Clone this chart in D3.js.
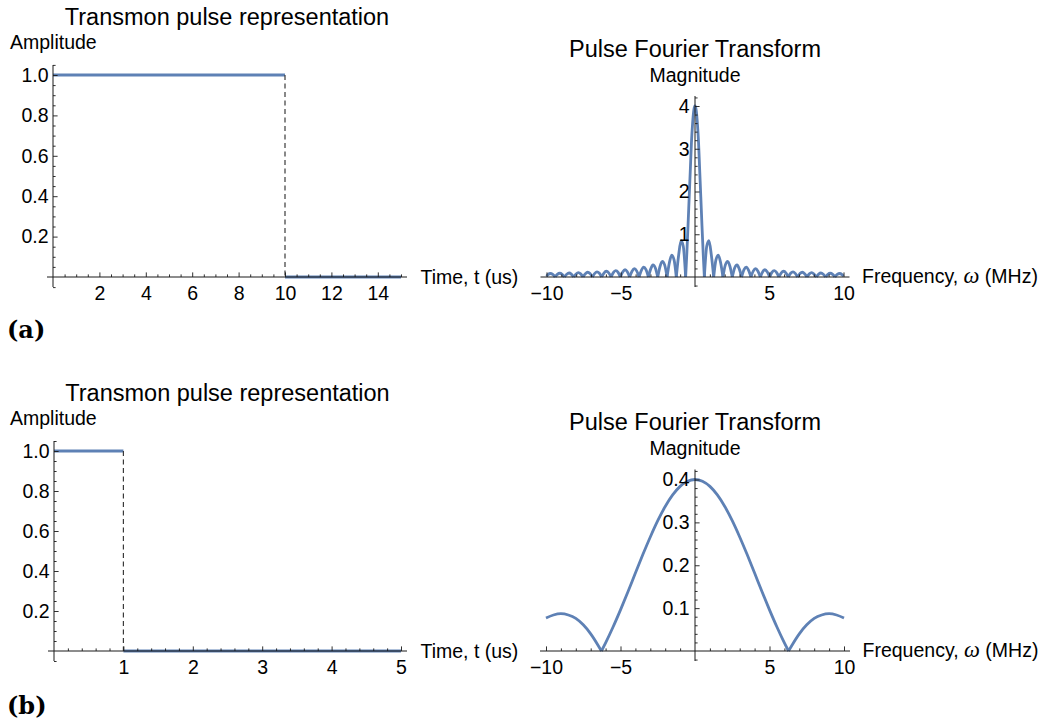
<!DOCTYPE html>
<html>
<head>
<meta charset="utf-8">
<script src="https://cdn.jsdelivr.net/npm/d3@7"></script>
<style>
  html, body { margin: 0; padding: 0; background: #fff; }
  svg { display: block; font-family: "Liberation Sans", Arial, sans-serif; }
</style>
</head>
<body>
<svg id="chart" width="1048" height="727"></svg>
<script>
// ---- Rectangular pulses: level held between consecutive edges ----
const pulseEdgesA = [0, 10, 15];
const pulseLevelsA = [1, 0];
const pulseEdgesB = [0, 1, 5];
const pulseLevelsB = [1, 0];

// ---- Tick labels ----
const timeTicksA = [2, 4, 6, 8, 10, 12, 14];
const timeTicksB = [1, 2, 3, 4, 5];
const amplitudeTicks = [0.2, 0.4, 0.6, 0.8, 1.0];
const freqTicks = [-10, -5, 5, 10];
const magTicksA = [1, 2, 3, 4];
const magTicksB = [0.1, 0.2, 0.3, 0.4];

// ---- Spectrum of the 10 us pulse ----
const omegaA = [
  -10, -9.90, -9.74, -9.58, -9.42, -9.27, -9.11, -8.95, -8.80, -8.64, -8.48, -8.33, -8.17,
  -8.01, -7.85, -7.70, -7.54, -7.38, -7.23, -7.07, -6.91, -6.75, -6.60, -6.44, -6.28,
  -6.13, -5.97, -5.81, -5.65, -5.50, -5.34, -5.18, -5.03, -4.87, -4.71, -4.56, -4.40,
  -4.24, -4.08, -3.93, -3.77, -3.61, -3.46, -3.30, -3.14, -2.98, -2.83, -2.67, -2.51,
  -2.36, -2.20, -2.04, -1.88, -1.73, -1.57, -1.41, -1.26, -1.10, -0.94, -0.79, -0.63,
  -0.55, -0.47, -0.39, -0.31, -0.24, -0.16, -0.08, 0,
  0.08, 0.16, 0.24, 0.31, 0.39, 0.47, 0.55,
  0.63, 0.79, 0.94, 1.10, 1.26, 1.41, 1.57, 1.73, 1.88, 2.04, 2.20, 2.36,
  2.51, 2.67, 2.83, 2.98, 3.14, 3.30, 3.46, 3.61, 3.77, 3.93, 4.08, 4.24,
  4.40, 4.56, 4.71, 4.87, 5.03, 5.18, 5.34, 5.50, 5.65, 5.81, 5.97, 6.13,
  6.28, 6.44, 6.60, 6.75, 6.91, 7.07, 7.23, 7.38, 7.54, 7.70, 7.85, 8.01,
  8.17, 8.33, 8.48, 8.64, 8.80, 8.95, 9.11, 9.27, 9.42, 9.58, 9.74, 9.90, 10
];
const magnitudeA = [
  0.021, 0.057, 0.082, 0.059, 0, 0.061, 0.088, 0.063, 0, 0.065, 0.094, 0.068, 0,
  0.071, 0.102, 0.073, 0, 0.077, 0.111, 0.080, 0, 0.084, 0.121, 0.088, 0,
  0.092, 0.134, 0.097, 0, 0.103, 0.150, 0.109, 0, 0.116, 0.170, 0.124, 0,
  0.133, 0.196, 0.144, 0, 0.157, 0.232, 0.171, 0, 0.190, 0.283, 0.212, 0,
  0.240, 0.364, 0.277, 0, 0.327, 0.509, 0.400, 0, 0.514, 0.849, 0.720, 0,
  0.56, 1.20, 1.88, 2.55, 3.14, 3.60, 3.90, 4,
  3.90, 3.60, 3.14, 2.55, 1.88, 1.20, 0.56,
  0, 0.720, 0.849, 0.514, 0, 0.400, 0.509, 0.327, 0, 0.277, 0.364, 0.240,
  0, 0.212, 0.283, 0.190, 0, 0.171, 0.232, 0.157, 0, 0.144, 0.196, 0.133,
  0, 0.124, 0.170, 0.116, 0, 0.109, 0.150, 0.103, 0, 0.097, 0.134, 0.092,
  0, 0.088, 0.121, 0.084, 0, 0.080, 0.111, 0.077, 0, 0.073, 0.102, 0.071,
  0, 0.068, 0.094, 0.065, 0, 0.063, 0.088, 0.061, 0, 0.059, 0.082, 0.057, 0.021
];

// ---- Spectrum of the 1 us pulse ----
const omegaB = [
  -10, -9.5, -9, -8.5, -8, -7.5, -7, -6.5, -6.28, -6, -5.5, -5, -4.5, -4, -3.5, -3,
  -2.5, -2, -1.5, -1, -0.5, 0, 0.5, 1, 1.5, 2, 2.5, 3, 3.5, 4, 4.5, 5, 5.5, 6, 6.28,
  6.5, 7, 7.5, 8, 8.5, 9, 9.5, 10
];
const magnitudeB = [
  0.077, 0.084, 0.087, 0.084, 0.076, 0.061, 0.040, 0.013, 0, 0.019, 0.056, 0.096,
  0.138, 0.182, 0.225, 0.266, 0.304, 0.337, 0.364, 0.384, 0.396, 0.400, 0.396, 0.384,
  0.364, 0.337, 0.304, 0.266, 0.225, 0.182, 0.138, 0.096, 0.056, 0.019, 0,
  0.013, 0.040, 0.061, 0.076, 0.084, 0.087, 0.084, 0.077
];

// ---- Drawing ----
const LINE = "#5E81B5";
const AXIS = "#1a1a1a";
const svg = d3.select("#chart");

function rangeStep(a, b, s) {
  const out = [];
  for (let i = 0; a + i * s <= b + 1e-9; i++) out.push(+(a + i * s).toFixed(6));
  return out;
}
function minorOf(all, majors) {
  return all.filter(v => !majors.some(m => Math.abs(m - v) < 1e-6) && Math.abs(v) > 1e-9);
}

function drawAxes(g, x, y, cfg) {
  const ax = y(0), ay = x(0);
  const [xa, xb] = x.range();
  const [yb, yt] = y.range();

  // x axis: line, minor ticks, major ticks with labels
  g.append("line").attr("x1", xa - 6).attr("x2", xb + 6).attr("y1", ax).attr("y2", ax)
    .attr("stroke", AXIS).attr("stroke-width", 1);
  const xMinor = g.append("g").attr("transform", `translate(0,${ax})`)
    .call(d3.axisBottom(x).tickValues(cfg.xMinor).tickSize(-2.6).tickFormat(""));
  const xMajor = g.append("g").attr("transform", `translate(0,${ax})`)
    .call(d3.axisBottom(x).tickValues(cfg.xMajor).tickSize(-4.6).tickPadding(9.5).tickFormat(cfg.xFmt));

  // y axis
  g.append("line").attr("x1", ay).attr("x2", ay).attr("y1", yt - 10).attr("y2", ax + 10)
    .attr("stroke", AXIS).attr("stroke-width", 1);
  const yMinor = g.append("g").attr("transform", `translate(${ay},0)`)
    .call(d3.axisLeft(y).tickValues(cfg.yMinor).tickSize(-2.6).tickFormat(""));
  const yMajor = g.append("g").attr("transform", `translate(${ay},0)`)
    .call(d3.axisLeft(y).tickValues(cfg.yMajor).tickSize(-4.6).tickPadding(cfg.yPad).tickFormat(cfg.yFmt));

  [xMinor, xMajor, yMinor, yMajor].forEach(a => {
    a.select(".domain").remove();
    a.attr("color", AXIS).attr("font-family", null).attr("font-size", null);
    a.selectAll(".tick line").attr("stroke-width", 0.9);
    a.selectAll("text").attr("fill", "#000").style("font-size", "19.5px");
  });
}

function drawTexts(g, t) {
  g.append("text").attr("x", t.title[0]).attr("y", t.title[1]).attr("text-anchor", "middle")
    .style("font-size", "23.5px").text(t.titleText);
  g.append("text").attr("x", t.ylab[0]).attr("y", t.ylab[1]).attr("text-anchor", t.ylabAnchor)
    .style("font-size", "19.5px").text(t.ylabText);
  const xl = g.append("text").attr("x", t.xlab[0]).attr("y", t.xlab[1]).style("font-size", "19.5px");
  t.xlabParts.forEach(p => {
    const s = xl.append("tspan").text(p.text);
    if (p.italic) s.style("font-style", "italic").style("font-family", "'Liberation Serif', serif").style("font-size", "22.5px");
  });
}

function pulsePanel(edges, levels, layout, ticks) {
  const g = svg.append("g");
  const x = d3.scaleLinear().domain([edges[0], edges[edges.length - 1]]).range(layout.xr);
  const y = d3.scaleLinear().domain([0, 1]).range(layout.yr);

  // horizontal segments of the pulse
  levels.forEach((lv, i) => {
    g.append("line")
      .attr("x1", x(edges[i])).attr("x2", x(edges[i + 1]))
      .attr("y1", y(lv)).attr("y2", y(lv))
      .attr("stroke", LINE).attr("stroke-width", 2.8);
  });
  // dashed jump between levels
  for (let i = 1; i < levels.length; i++) {
    g.append("line")
      .attr("x1", x(edges[i])).attr("x2", x(edges[i]))
      .attr("y1", y(levels[i - 1])).attr("y2", y(levels[i]))
      .attr("stroke", "#3a3a3a").attr("stroke-width", 1.2).attr("stroke-dasharray", "5,3.5");
  }

  const xEnd = edges[edges.length - 1];
  drawAxes(g, x, y, {
    xMajor: ticks.x,
    xMinor: minorOf(rangeStep(0, xEnd, ticks.xMinorStep), ticks.x),
    yMajor: amplitudeTicks,
    yMinor: minorOf(rangeStep(-0.05, 1.05, 0.05), amplitudeTicks),
    xFmt: d3.format("d"),
    yFmt: d3.format(".1f"),
    yPad: 4.5
  });
  drawTexts(g, {
    title: [(layout.xr[0] + layout.xr[1]) / 2, layout.yr[1] - 50],
    titleText: "Transmon pulse representation",
    ylab: [10, layout.yr[1] - 26], ylabAnchor: "start", ylabText: "Amplitude",
    xlab: [layout.xr[1] + 19.5, layout.yr[0] + 6.5],
    xlabParts: [{ text: "Time, t (us)" }]
  });
}

function spectrumPanel(om, mag, layout, ticks) {
  const g = svg.append("g");
  const x = d3.scaleLinear().domain([-10, 10]).range(layout.xr);
  const y = d3.scaleLinear().domain([0, ticks.yMax]).range(layout.yr);

  // split the |F(ω)| trace into lobes at its zeros so each cusp stays sharp
  const pts = om.map((w, i) => [w, mag[i]]);
  const lobes = [];
  let cur = [];
  pts.forEach((p, i) => {
    cur.push(p);
    if (p[1] === 0 && i > 0 && i < pts.length - 1) { lobes.push(cur); cur = [p]; }
  });
  lobes.push(cur);

  const line = d3.line().x(d => x(d[0])).y(d => y(d[1])).curve(d3.curveMonotoneX);
  g.append("g").selectAll("path").data(lobes).join("path")
    .attr("d", line).attr("fill", "none").attr("stroke", LINE)
    .attr("stroke-width", 2.8).attr("stroke-linejoin", "round");

  drawAxes(g, x, y, {
    xMajor: freqTicks,
    xMinor: minorOf(rangeStep(-10, 10, 1), freqTicks),
    yMajor: ticks.y,
    yMinor: minorOf(rangeStep(-ticks.yMinorStep, ticks.yMax + ticks.yMinorStep, ticks.yMinorStep), ticks.y),
    xFmt: d3.format("d"),
    yFmt: ticks.yFmt,
    yPad: 5.5
  });
  drawTexts(g, {
    title: [x(0), layout.yr[1] - 49.5],
    titleText: "Pulse Fourier Transform",
    ylab: [x(0), layout.yr[1] - 24.5], ylabAnchor: "middle", ylabText: "Magnitude",
    xlab: [layout.xr[1] + 18.5, layout.yr[0] + 6],
    xlabParts: [{ text: "Frequency, " }, { text: "ω", italic: true }, { text: " (MHz)" }]
  });
}

pulsePanel(pulseEdgesA, pulseLevelsA, { xr: [53, 401], yr: [277, 75] }, { x: timeTicksA, xMinorStep: 0.5 });
spectrumPanel(omegaA, magnitudeA, { xr: [546.5, 843.5], yr: [277, 106] },
  { y: magTicksA, yMax: 4, yMinorStep: 0.2, yFmt: d3.format("d") });
pulsePanel(pulseEdgesB, pulseLevelsB, { xr: [54, 401], yr: [651, 451] }, { x: timeTicksB, xMinorStep: 0.2 });
spectrumPanel(omegaB, magnitudeB, { xr: [546, 844], yr: [651, 479.5] },
  { y: magTicksB, yMax: 0.4, yMinorStep: 0.02, yFmt: d3.format(".1f") });

// subfigure tags
svg.append("text").attr("x", 7).attr("y", 338)
  .style("font-family", "'DejaVu Serif', serif").style("font-weight", "bold").style("font-size", "24px")
  .text("(a)");
svg.append("text").attr("x", 7).attr("y", 714)
  .style("font-family", "'DejaVu Serif', serif").style("font-weight", "bold").style("font-size", "24px")
  .text("(b)");
</script>
</body>
</html>
